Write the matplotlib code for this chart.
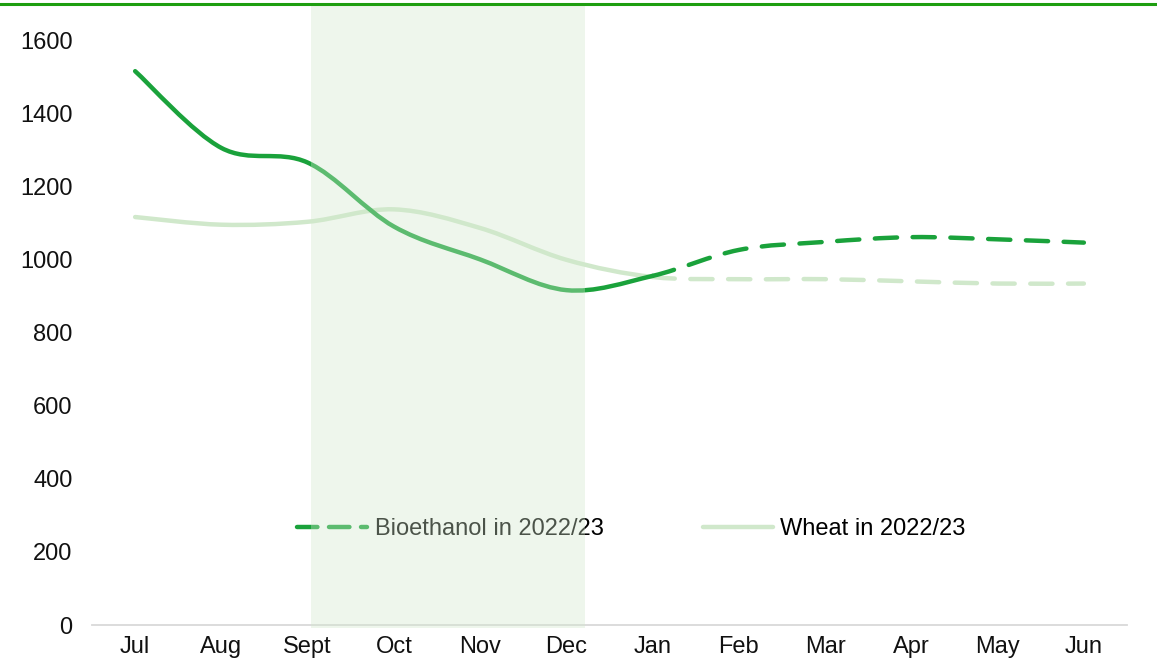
import matplotlib
matplotlib.use('Agg')
import matplotlib.pyplot as plt
import numpy as np
from matplotlib.path import Path
from matplotlib.patches import PathPatch
from matplotlib.lines import Line2D

months = ['Jul', 'Aug', 'Sept', 'Oct', 'Nov', 'Dec', 'Jan', 'Feb', 'Mar', 'Apr', 'May', 'Jun']
bioethanol = [1515, 1305, 1265, 1090, 1000, 916, 955, 1026, 1048, 1061, 1055, 1046]
wheat = [1116, 1095, 1103, 1137, 1086, 999, 952, 946, 946, 940, 934, 934]
forecast_start = 6      # Jan onwards is dashed
shade_from, shade_to = 2.04, 5.22   # Sept..Dec highlight

dark_green = '#1AA23B'
light_green = '#D0E8CB'

plt.rcParams['font.family'] = ['Liberation Sans', 'DejaVu Sans']
plt.rcParams['font.size'] = 17

fig = plt.figure(figsize=(11.57, 6.67), dpi=100)
ax = fig.add_axes([92/1157, 42/667, (1127-92)/1157, (625-5)/667])


def smooth_path(x, y, i0, i1):
    # excel-like smoothed line as cubic bezier between points i0..i1
    pts = np.column_stack([x, y]).astype(float)
    n = len(pts)
    verts = [pts[i0]]
    codes = [Path.MOVETO]
    for i in range(i0, i1):
        p0 = pts[max(i-1, 0)]
        p1 = pts[i]
        p2 = pts[i+1]
        p3 = pts[min(i+2, n-1)]
        c1 = p1 + (p2 - p0) / 6
        c2 = p2 - (p3 - p1) / 6
        verts += [c1, c2, p2]
        codes += [Path.CURVE4] * 3
    return Path(verts, codes)


xs = np.arange(len(months))
for vals, col, z in [(wheat, light_green, 3), (bioethanol, dark_green, 4)]:
    solid = PathPatch(smooth_path(xs, vals, 0, forecast_start), fill=False,
                      edgecolor=col, lw=3.2, capstyle='round', zorder=z)
    dashed = PathPatch(smooth_path(xs, vals, forecast_start, len(months)-1), fill=False,
                       edgecolor=col, lw=3.2, capstyle='round', zorder=z,
                       linestyle=(0, (5, 3.5)))
    ax.add_patch(solid)
    ax.add_patch(dashed)

# highlighted months, drawn on top like the original
ax.axvspan(shade_from, shade_to, ymin=-0.005, ymax=1, color='#D2E8CC', alpha=0.36,
           lw=0, zorder=10, clip_on=False)

ax.set_xlim(-0.5, len(months)-0.5)
ax.set_ylim(0, 1696)
ax.set_yticks(range(0, 1601, 200))
ax.set_xticks(xs)
ax.set_xticklabels(months)
ax.tick_params(axis='both', length=0, colors='#111111')
ax.tick_params(axis='x', pad=8)
ax.tick_params(axis='y', pad=14)
for s in ['top', 'right', 'left']:
    ax.spines[s].set_visible(False)
ax.spines['bottom'].set_color('#D9D9D9')
ax.spines['bottom'].set_linewidth(1.3)

handles = [Line2D([], [], color=dark_green, lw=3.2, dash_capstyle='round', linestyle=(0, (4.6, 2.6))),
           Line2D([], [], color=light_green, lw=3.2, solid_capstyle='round')]
ax.legend(handles, ['Bioethanol in 2022/23', 'Wheat in 2022/23'], ncol=2, frameon=False,
          loc='center', bbox_to_anchor=(0.521, 0.155), handlelength=3.0,
          handletextpad=0.3, columnspacing=4.2)

fig.add_artist(Line2D([0, 1], [1 - 4/667, 1 - 4/667], color='#1E9E10', lw=2.2))

fig.savefig('out.png', dpi=100)
